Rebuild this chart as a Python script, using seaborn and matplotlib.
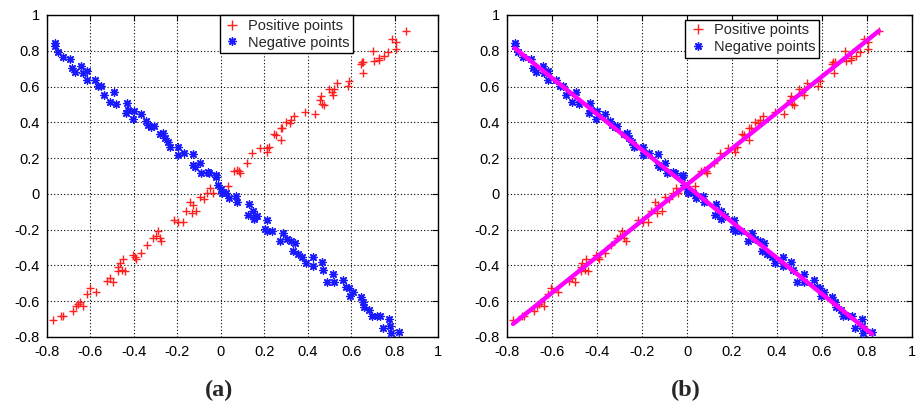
import matplotlib
matplotlib.use("Agg")
import matplotlib.pyplot as plt
import seaborn as sns
import pandas as pd
from matplotlib.lines import Line2D

pos_x = [0.853, 0.786, 0.806, 0.805, 0.771, 0.702, 0.751, 0.73, 0.73, 0.707, 0.648, 0.657, 0.645, 0.653,
         0.591, 0.584, 0.533, 0.521, 0.51, 0.518, 0.498, 0.462, 0.456, 0.465, 0.476, 0.433, 0.389, 0.338,
         0.323, 0.317, 0.30, 0.283, 0.275, 0.252, 0.243, 0.276, 0.221, 0.211, 0.212, 0.18, 0.146, 0.12,
         0.084, 0.075, 0.06, 0.087, 0.034, -0.051, -0.063, -0.038, -0.097, -0.078, -0.143, -0.127, -0.112,
         -0.158, -0.133, -0.217, -0.174, -0.197, -0.289, -0.30, -0.281, -0.312, -0.273, -0.34, -0.365,
         -0.404, -0.389, -0.396, -0.45, -0.465, -0.473, -0.453, -0.473, -0.442, -0.512, -0.524, -0.496,
         -0.604, -0.616, -0.573, -0.65, -0.658, -0.635, -0.668, -0.681, -0.725, -0.734, -0.773]
pos_y = [0.912, 0.866, 0.851, 0.81, 0.795, 0.799, 0.771, 0.758, 0.747, 0.743, 0.736, 0.738, 0.724, 0.674,
         0.629, 0.603, 0.618, 0.585, 0.572, 0.553, 0.585, 0.547, 0.525, 0.503, 0.497, 0.447, 0.456, 0.436,
         0.413, 0.398, 0.40, 0.367, 0.367, 0.33, 0.335, 0.302, 0.264, 0.255, 0.236, 0.255, 0.231, 0.171,
         0.128, 0.134, 0.128, 0.115, 0.045, 0.032, 0.004, 0.007, -0.015, -0.03, -0.043, -0.061, -0.095,
         -0.093, -0.108, -0.145, -0.158, -0.155, -0.21, -0.238, -0.248, -0.248, -0.263, -0.287, -0.331,
         -0.341, -0.365, -0.355, -0.365, -0.387, -0.406, -0.425, -0.43, -0.43, -0.471, -0.486, -0.495,
         -0.527, -0.559, -0.551, -0.607, -0.616, -0.626, -0.624, -0.657, -0.685, -0.685, -0.704]

neg_x = [-0.765, -0.765, -0.75, -0.727, -0.693, -0.685, -0.673, -0.642, -0.635, -0.616, -0.616, -0.581,
         -0.565, -0.55, -0.539, -0.512, -0.493, -0.481, -0.432, -0.435, -0.427, -0.40, -0.404, -0.365,
         -0.342, -0.335, -0.32, -0.309, -0.281, -0.266, -0.258, -0.243, -0.235, -0.197, -0.197, -0.17,
         -0.127, -0.127, -0.12, -0.097, -0.089, -0.061, -0.055, -0.02, -0.023, -0.012, -0.001, 0.004,
         0.026, 0.038, 0.069, 0.075, 0.129, 0.126, 0.149, 0.167, 0.152, 0.211, 0.203, 0.214, 0.238,
         0.287, 0.272, 0.303, 0.323, 0.341, 0.333, 0.356, 0.376, 0.392, 0.425, 0.425, 0.464, 0.471,
         0.49, 0.518, 0.521, 0.564, 0.576, 0.591, 0.594, 0.607, 0.645, 0.656, 0.66, 0.683, 0.694,
         0.717, 0.733, 0.776, 0.779, 0.748, 0.782, 0.822]
neg_y = [0.842, 0.827, 0.795, 0.767, 0.756, 0.702, 0.683, 0.715, 0.674, 0.689, 0.637, 0.637, 0.603,
         0.603, 0.553, 0.516, 0.572, 0.503, 0.507, 0.451, 0.469, 0.464, 0.417, 0.447, 0.41, 0.385,
         0.376, 0.378, 0.335, 0.339, 0.311, 0.292, 0.261, 0.264, 0.218, 0.227, 0.223, 0.162, 0.153,
         0.171, 0.115, 0.125, 0.115, 0.106, 0.097, 0.05, 0.026, 0.007, 0.007, -0.024, -0.011, -0.043,
         -0.056, -0.117, -0.093, -0.123, -0.141, -0.145, -0.197, -0.21, -0.21, -0.216, -0.261, -0.253,
         -0.266, -0.276, -0.317, -0.335, -0.354, -0.384, -0.354, -0.402, -0.378, -0.428, -0.495,
         -0.447, -0.495, -0.484, -0.518, -0.527, -0.57, -0.551, -0.574, -0.602, -0.63, -0.648,
         -0.685, -0.685, -0.682, -0.698, -0.737, -0.75, -0.778, -0.773]

x_ticks = [-0.8, -0.6, -0.4, -0.2, 0, 0.2, 0.4, 0.6, 0.8, 1]
y_ticks = [-0.8, -0.6, -0.4, -0.2, 0, 0.2, 0.4, 0.6, 0.8, 1]
tick_labels = ["-0.8", "-0.6", "-0.4", "-0.2", "0", "0.2", "0.4", "0.6", "0.8", "1"]
legend_labels = ["Positive points", "Negative points"]
captions = ["(a)", "(b)"]

sns.set_theme(style="white")
plt.rcParams['font.family'] = ['Liberation Sans', 'DejaVu Sans']

pos_df = pd.DataFrame({"x": pos_x, "y": pos_y})
neg_df = pd.DataFrame({"x": neg_x, "y": neg_y})

fig = plt.figure(figsize=(9.19, 4.05), dpi=100)
ax_a = fig.add_axes([47/919, 1-337/405, 391/919, 322/405])
ax_b = fig.add_axes([507/919, 1-337/405, 405/919, 322/405])

asterisk = (8, 2, 0)

for i, ax in enumerate([ax_a, ax_b]):
    sns.scatterplot(data=pos_df, x="x", y="y", ax=ax, marker="+", color="#ff2020",
                    s=40, linewidth=1.0, zorder=3)
    sns.scatterplot(data=neg_df, x="x", y="y", ax=ax, marker=asterisk, color="#1a1aff",
                    s=28, linewidth=1.0, zorder=3)
    if i == 1:
        sns.regplot(data=pos_df, x="x", y="y", ax=ax, scatter=False, ci=None,
                    line_kws=dict(color="#ff00ff", lw=3.2, zorder=4))
        sns.regplot(data=neg_df, x="x", y="y", ax=ax, scatter=False, ci=None,
                    line_kws=dict(color="#ff00ff", lw=3.2, zorder=4))
    ax.set_xlim(-0.8, 1)
    ax.set_ylim(-0.8, 1)
    ax.set_xticks(x_ticks)
    ax.set_yticks(y_ticks)
    ax.set_xticklabels(tick_labels)
    ax.set_yticklabels(tick_labels)
    ax.set_xlabel("")
    ax.set_ylabel("")
    ax.grid(True, color="black", linestyle=(0, (1, 2)), linewidth=0.8)
    ax.set_axisbelow(True)
    for sp in ax.spines.values():
        sp.set_visible(True)
        sp.set_color("black")
        sp.set_linewidth(1.0)
    ax.tick_params(direction="in", length=4, width=0.8, top=True, right=True,
                   labelsize=10.5, colors="black", pad=5)
    ax.tick_params(axis="x", pad=6)

    handles = [Line2D([], [], linestyle="none", marker="+", color="#ff2020", markersize=7, mew=1.0),
               Line2D([], [], linestyle="none", marker=asterisk, color="#1a1aff", markersize=6, mew=1.0)]
    if i == 0:
        anchor = (0.442, 1.0)
    else:
        anchor = (0.44, 0.985)
    leg = ax.legend(handles, legend_labels, loc="upper left", bbox_to_anchor=anchor,
                    frameon=True, fancybox=False, framealpha=1, edgecolor="black",
                    borderpad=0.25, handlelength=1.2, handletextpad=0.5,
                    labelspacing=0.2, borderaxespad=0.0,
                    prop={'family': ['Liberation Sans', 'DejaVu Sans'], 'size': 10.5})
    leg.get_frame().set_linewidth(1.0)

fig.text(219/919, 1-390/405, captions[0], ha="center", va="center",
         fontsize=17.5, fontweight="bold", family=["Liberation Serif", "DejaVu Serif"])
fig.text(686/919, 1-390/405, captions[1], ha="center", va="center",
         fontsize=17.5, fontweight="bold", family=["Liberation Serif", "DejaVu Serif"])

fig.savefig("out.png", dpi=100)
